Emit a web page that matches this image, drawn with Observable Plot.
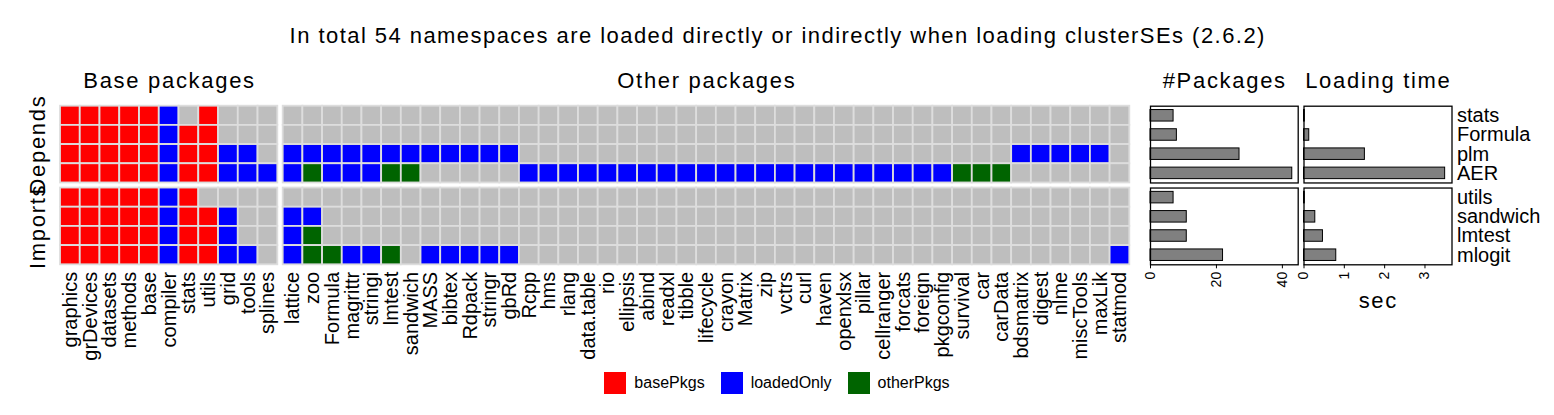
<!DOCTYPE html>
<html><head><meta charset="utf-8">
<script src="https://cdn.jsdelivr.net/npm/d3@7"></script>
<script src="https://cdn.jsdelivr.net/npm/@observablehq/plot@0.6"></script>
<style>
html,body{margin:0;padding:0;background:#fff;}
#root{position:relative;width:1554px;height:415px;overflow:hidden;font-family:"Liberation Sans",Arial,Helvetica,sans-serif;color:#000;}
.layer{position:absolute;left:0;top:0;}
.lbl{position:absolute;white-space:nowrap;line-height:1;transform:translateX(-50%);color:#000;}
#legend{position:absolute;left:8px;top:366px;width:1554px;display:flex;justify-content:center;}
#legend div, #legend span{font-family:"Liberation Sans",Arial,sans-serif !important;font-size:16px !important;color:#000;}
</style></head><body><div id="root"></div>
<script>
// ---------- data ----------
const basePkgs = ["graphics","grDevices","datasets","methods","base","compiler","stats","utils","grid","tools","splines"];
const otherPkgs = ["lattice","zoo","Formula","magrittr","stringi","lmtest","sandwich","MASS","bibtex","Rdpack",
  "stringr","gbRd","Rcpp","hms","rlang","data.table","rio","ellipsis","abind","readxl",
  "tibble","lifecycle","crayon","Matrix","zip","vctrs","curl","haven","openxlsx","pillar",
  "cellranger","forcats","foreign","pkgconfig","survival","car","carData","bdsmatrix","digest","nlme",
  "miscTools","maxLik","statmod"];
const groups = ["Depends","Imports"];
const dependsPkgs = ["stats","Formula","plm","AER"];
const importsPkgs = ["utils","sandwich","lmtest","mlogit"];
// cell codes: b = basePkgs, l = loadedOnly, o = otherPkgs, . = not loaded (one char per column)
const baseDepends = ["bbbbbl.b...","bbbbblbb...","bbbbblbbll.","bbbbblbblll"];
const baseImports = ["bbbbblb....","bbbbblbbl..","bbbbblbbl..","bbbbblbbll."];
const otherDepends = [
  ".......... .......... .......... .......... ...",
  ".......... .......... .......... .......... ...",
  "llllllllll ll........ .......... .......lll ll.",
  "lollloo... ..llllllll llllllllll llllooo... ..."
];
const otherImports = [
  ".......... .......... .......... .......... ...",
  "ll........ .......... .......... .......... ...",
  "lo........ .......... .......... .......... ...",
  "loollo.lll ll........ .......... .......... ..l"
];
const nPkgsDepends = [7, 8, 27, 43];
const nPkgsImports = [7, 11, 11, 22];
const loadTimeDepends = [0.02, 0.13, 1.51, 3.5];
const loadTimeImports = [0.02, 0.28, 0.47, 0.80];
const pkgTicks = [0, 20, 40];
const timeTicks = [0, 1, 2, 3];
const statusNames = ["basePkgs","loadedOnly","otherPkgs","none"];
const statusColors = ["#FF0000","#0000FF","#006400","#BEBEBE"];
const codeToStatus = {b: "basePkgs", l: "loadedOnly", o: "otherPkgs", ".": "none"};
const titleText = "In total 54 namespaces are loaded directly or indirectly when loading clusterSEs (2.6.2)";

// ---------- layout ----------
const W = 1554, H = 415;
const FONT = '"Liberation Sans", Arial, Helvetica, sans-serif';
const TOP = 105.7, BOTTOM = 264.3, FYPAD = 0.062;
const root = document.getElementById("root");

function buildCells(pkgs, rowsDep, rowsImp) {
  const out = [];
  [[groups[0], rowsDep], [groups[1], rowsImp]].forEach(([g, rows]) => {
    rows.forEach((s, i) => {
      const codes = s.replace(/ /g, "");
      pkgs.forEach((p, j) => out.push({group: g, row: i, pkg: p, status: codeToStatus[codes[j]]}));
    });
  });
  return out;
}
function buildBars(dep, imp) {
  return [...dep.map((v, i) => ({group: groups[0], row: i, value: v})),
          ...imp.map((v, i) => ({group: groups[1], row: i, value: v}))];
}
function addLayer(node) { node.classList.add("layer"); root.appendChild(node); return node; }
function addLabel(text, cx, top, size, spacing) {
  const d = document.createElement("div");
  d.className = "lbl"; d.textContent = text;
  d.style.left = cx + "px"; d.style.top = top + "px"; d.style.fontSize = size + "px";
  d.style.letterSpacing = spacing + "px";
  d.style.marginLeft = (spacing / 2) + "px";
  root.appendChild(d);
}

const common = (left, right) => ({
  width: W, height: H,
  marginLeft: left, marginRight: W - right, marginTop: TOP, marginBottom: H - BOTTOM,
  style: {fontFamily: FONT, background: "transparent", overflow: "visible", color: "black"},
  fy: {domain: groups, paddingInner: FYPAD, paddingOuter: 0, round: false, axis: null}
});

function gridPlot(pkgs, cells, left, right, extra = []) {
  return Plot.plot({
    ...common(left, right),
    x: {domain: pkgs, padding: 0, round: false},
    y: {domain: [0, 1, 2, 3], padding: 0, round: false, axis: null},
    color: {domain: statusNames, range: statusColors},
    marks: [
      Plot.cell(cells, {x: "pkg", y: "row", fy: "group", fill: "status", stroke: "#DDDDDD", strokeWidth: 1.8, inset: 0}),
      Plot.axisX({tickRotate: -90, fontSize: 20, tickSize: 0, tickPadding: 7, label: null, facetAnchor: "bottom"}),
      ...extra
    ]
  });
}

function barPlot(data, left, right, domain, ticks, extra = []) {
  return Plot.plot({
    ...common(left, right),
    x: {domain},
    y: {domain: [0, 1, 2, 3], paddingInner: 0.4, paddingOuter: 0.2, round: false, axis: null},
    marks: [
      Plot.barX(data, {x: "value", y: "row", fy: "group", fill: "#808080", stroke: "black", strokeWidth: 1}),
      Plot.frame({stroke: "black", strokeWidth: 1.3}),
      Plot.axisX({ticks, tickFormat: d => String(d), tickRotate: -90, fontSize: 14, tickSize: 4, tickPadding: 3, label: null, facetAnchor: "bottom"}),
      ...extra
    ]
  });
}

// base packages grid (with row-group labels)
const baseSvg = addLayer(gridPlot(basePkgs, buildCells(basePkgs, baseDepends, baseImports), 60, 277.3, [
  Plot.text(groups, {fy: d => d, text: d => d, frameAnchor: "left", textAnchor: "middle", rotate: -90, dx: -23, fontSize: 22})
]));
d3.select(baseSvg).selectAll("g[aria-label='text'] text").attr("letter-spacing", "1.7px");
// other packages grid
addLayer(gridPlot(otherPkgs, buildCells(otherPkgs, otherDepends, otherImports), 282.7, 1129.3));
// number of packages
addLayer(barPlot(buildBars(nPkgsDepends, nPkgsImports), 1150, 1297.7, [0, 44.8], pkgTicks));
// loading time (with package names on the right)
const rowNames = [...dependsPkgs.map((n, i) => ({group: groups[0], row: i, name: n})),
                  ...importsPkgs.map((n, i) => ({group: groups[1], row: i, name: n}))];
addLayer(barPlot(buildBars(loadTimeDepends, loadTimeImports), 1303.5, 1451.5, [0, 3.67], timeTicks, [
  Plot.text(rowNames, {fy: "group", y: "row", text: "name", frameAnchor: "right", textAnchor: "start", dx: 5, fontSize: 20})
]));

// titles
addLabel(titleText, 777, 25, 22, 1.45);
addLabel("Base packages", 168.7, 70, 22, 1.7);
addLabel("Other packages", 706, 70, 22, 1.7);
addLabel("#Packages", 1223.9, 70, 22, 1.7);
addLabel("Loading time", 1377.5, 70, 22, 1.7);
addLabel("sec", 1377.5, 289.5, 22, 1.7);

// legend
const leg = Plot.legend({
  color: {type: "categorical", domain: statusNames.slice(0, 3), range: statusColors.slice(0, 3)},
  legend: "swatches", swatchSize: 22
});
const legWrap = document.createElement("div");
legWrap.id = "legend";
legWrap.appendChild(leg);
root.appendChild(legWrap);
</script></body></html>
